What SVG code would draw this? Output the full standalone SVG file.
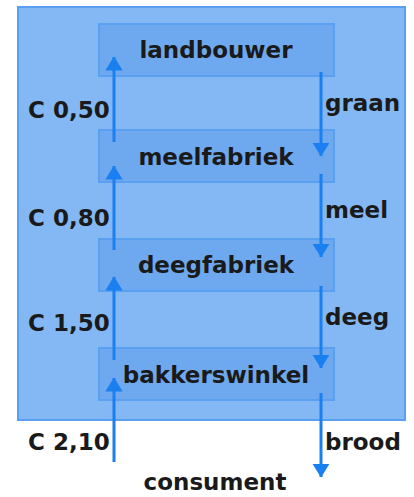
<svg xmlns="http://www.w3.org/2000/svg" width="414" height="497" viewBox="0 0 414 497">
<style>
.lbl{font-family:"DejaVu Sans",Verdana,sans-serif;font-weight:bold;font-size:23px;fill:#1a1a1a}
.node rect{fill:#6ea9ef;stroke:#5a9ff0;stroke-width:2}
.c line{stroke:#1a7ff0;stroke-width:3}
</style>
<defs>
<marker id="ah" markerWidth="4.7" markerHeight="5.8" refX="4.5" refY="2.9" orient="auto" markerUnits="strokeWidth">
<path d="M0,0 L4.7,2.9 L0,5.8 z" fill="#1a7ff0"/>
</marker>
</defs>
<rect x="18" y="7" width="387" height="413" fill="#84b8f5" stroke="#5aa0f0" stroke-width="2"/>
<g id="landbouwer" class="node"><rect x="99" y="24" width="235" height="52"/><text class="lbl" x="216" y="58" text-anchor="middle">landbouwer</text></g>
<g id="meelfabriek" class="node"><rect x="99" y="130" width="235" height="52"/><text class="lbl" x="216" y="165" text-anchor="middle">meelfabriek</text></g>
<g id="deegfabriek" class="node"><rect x="99" y="239" width="235" height="52"/><text class="lbl" x="216" y="273" text-anchor="middle">deegfabriek</text></g>
<g id="bakkerswinkel" class="node"><rect x="99" y="348" width="235" height="52"/><text class="lbl" x="216" y="383" text-anchor="middle">bakkerswinkel</text></g>
<g id="connectors" class="c">
<line x1="114" y1="142" x2="114" y2="57" marker-end="url(#ah)"/>
<line x1="114" y1="250" x2="114" y2="166" marker-end="url(#ah)"/>
<line x1="114" y1="360" x2="114" y2="277" marker-end="url(#ah)"/>
<line x1="114" y1="462" x2="114" y2="378" marker-end="url(#ah)"/>
<line x1="321" y1="72" x2="321" y2="156" marker-end="url(#ah)"/>
<line x1="321" y1="174" x2="321" y2="257" marker-end="url(#ah)"/>
<line x1="321" y1="286" x2="321" y2="368" marker-end="url(#ah)"/>
<line x1="321" y1="393" x2="321" y2="477" marker-end="url(#ah)"/>
</g>
<g id="labels">
<text class="lbl" x="28" y="118">C 0,50</text>
<text class="lbl" x="28" y="226">C 0,80</text>
<text class="lbl" x="28" y="331">C 1,50</text>
<text class="lbl" x="28" y="450">C 2,10</text>
<text class="lbl" x="325" y="111">graan</text>
<text class="lbl" x="325" y="218">meel</text>
<text class="lbl" x="325" y="325">deeg</text>
<text class="lbl" x="325" y="450">brood</text>
</g>
<g id="consument"><text class="lbl" x="215" y="490" text-anchor="middle">consument</text></g>
</svg>
